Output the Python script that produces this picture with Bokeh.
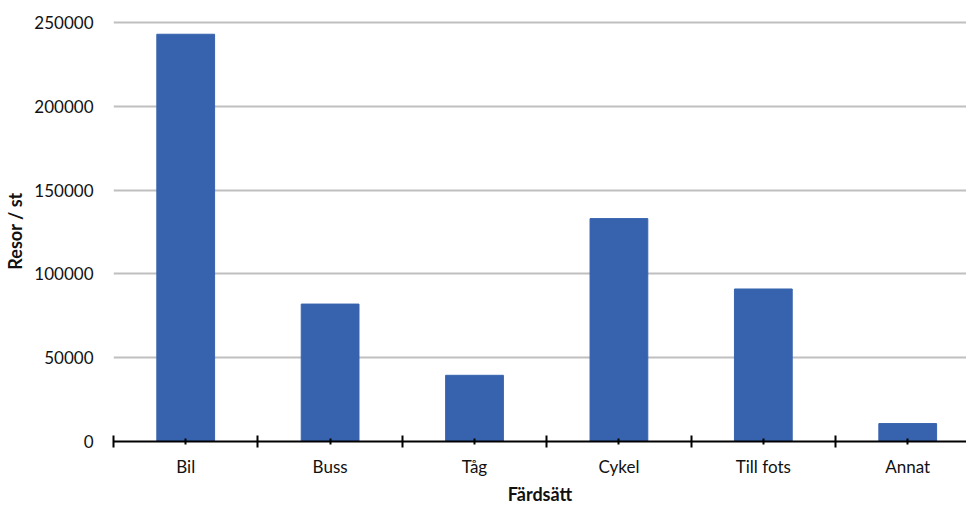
from bokeh.plotting import figure
from bokeh.models import Range1d, FixedTicker, ColumnDataSource, NumeralTickFormatter
from bokeh.embed import file_html
from bokeh.resources import INLINE

categories = ["Bil", "Buss", "Tåg", "Cykel", "Till fots", "Annat"]
values = [243000, 82000, 39500, 133000, 91000, 10700]
y_ticks = [0, 50000, 100000, 150000, 200000, 250000]

centers = [i + 0.5 for i in range(len(categories))]
bounds = list(range(len(categories) + 1))

src = ColumnDataSource(dict(x=centers, top=values, name=categories))

p = figure(width=966, height=508, output_backend="svg", toolbar_location=None,
           x_range=Range1d(0, 5.907), y_range=Range1d(0, 251200),
           min_border_left=113, min_border_right=0, min_border_top=20, min_border_bottom=67)
p.outline_line_color = None
p.background_fill_color = "white"

p.vbar(x="x", top="top", width=0.40, source=src, color="#3763AE")

FONT = "Lato"
# x axis
p.xaxis.ticker = FixedTicker(ticks=centers, minor_ticks=bounds)
p.xaxis.major_label_overrides = {c: n for c, n in zip(centers, categories)}
p.xaxis.axis_line_color = "black"
p.xaxis.axis_line_width = 2
p.xaxis.major_tick_line_color = "black"
p.xaxis.major_tick_line_width = 2
p.xaxis.major_tick_in = 3
p.xaxis.major_tick_out = 3
p.xaxis.minor_tick_line_color = "black"
p.xaxis.minor_tick_line_width = 2
p.xaxis.minor_tick_in = 6
p.xaxis.minor_tick_out = 6
p.xaxis.major_label_text_font = FONT
p.xaxis.major_label_text_font_size = "17px"
p.xaxis.major_label_text_color = "#111111"
p.xaxis.major_label_standoff = 8
p.xaxis.axis_label = "Färdsätt"
p.xaxis.axis_label_text_font = FONT
p.xaxis.axis_label_text_font_style = "bold"
p.xaxis.axis_label_text_font_size = "18px"
p.xaxis.axis_label_text_color = "#111111"
p.xaxis.axis_label_standoff = 3

# y axis
p.yaxis.ticker = FixedTicker(ticks=y_ticks)
p.yaxis.formatter = NumeralTickFormatter(format="0")
p.yaxis.axis_line_color = None
p.yaxis.major_tick_line_color = None
p.yaxis.minor_tick_line_color = None
p.yaxis.major_tick_out = 0
p.yaxis.major_tick_in = 0
p.yaxis.major_label_standoff = 20
p.yaxis.major_label_text_font = FONT
p.yaxis.major_label_text_font_size = "17px"
p.yaxis.major_label_text_color = "#111111"
p.yaxis.axis_label = "Resor / st"
p.yaxis.axis_label_text_font = FONT
p.yaxis.axis_label_text_font_style = "bold"
p.yaxis.axis_label_text_font_size = "18px"
p.yaxis.axis_label_text_color = "#111111"
p.yaxis.axis_label_standoff = 5

p.xgrid.grid_line_color = None
p.ygrid.grid_line_color = "#BFBFBF"
p.ygrid.grid_line_width = 2

open("out.html", "w").write(file_html(p, INLINE))
